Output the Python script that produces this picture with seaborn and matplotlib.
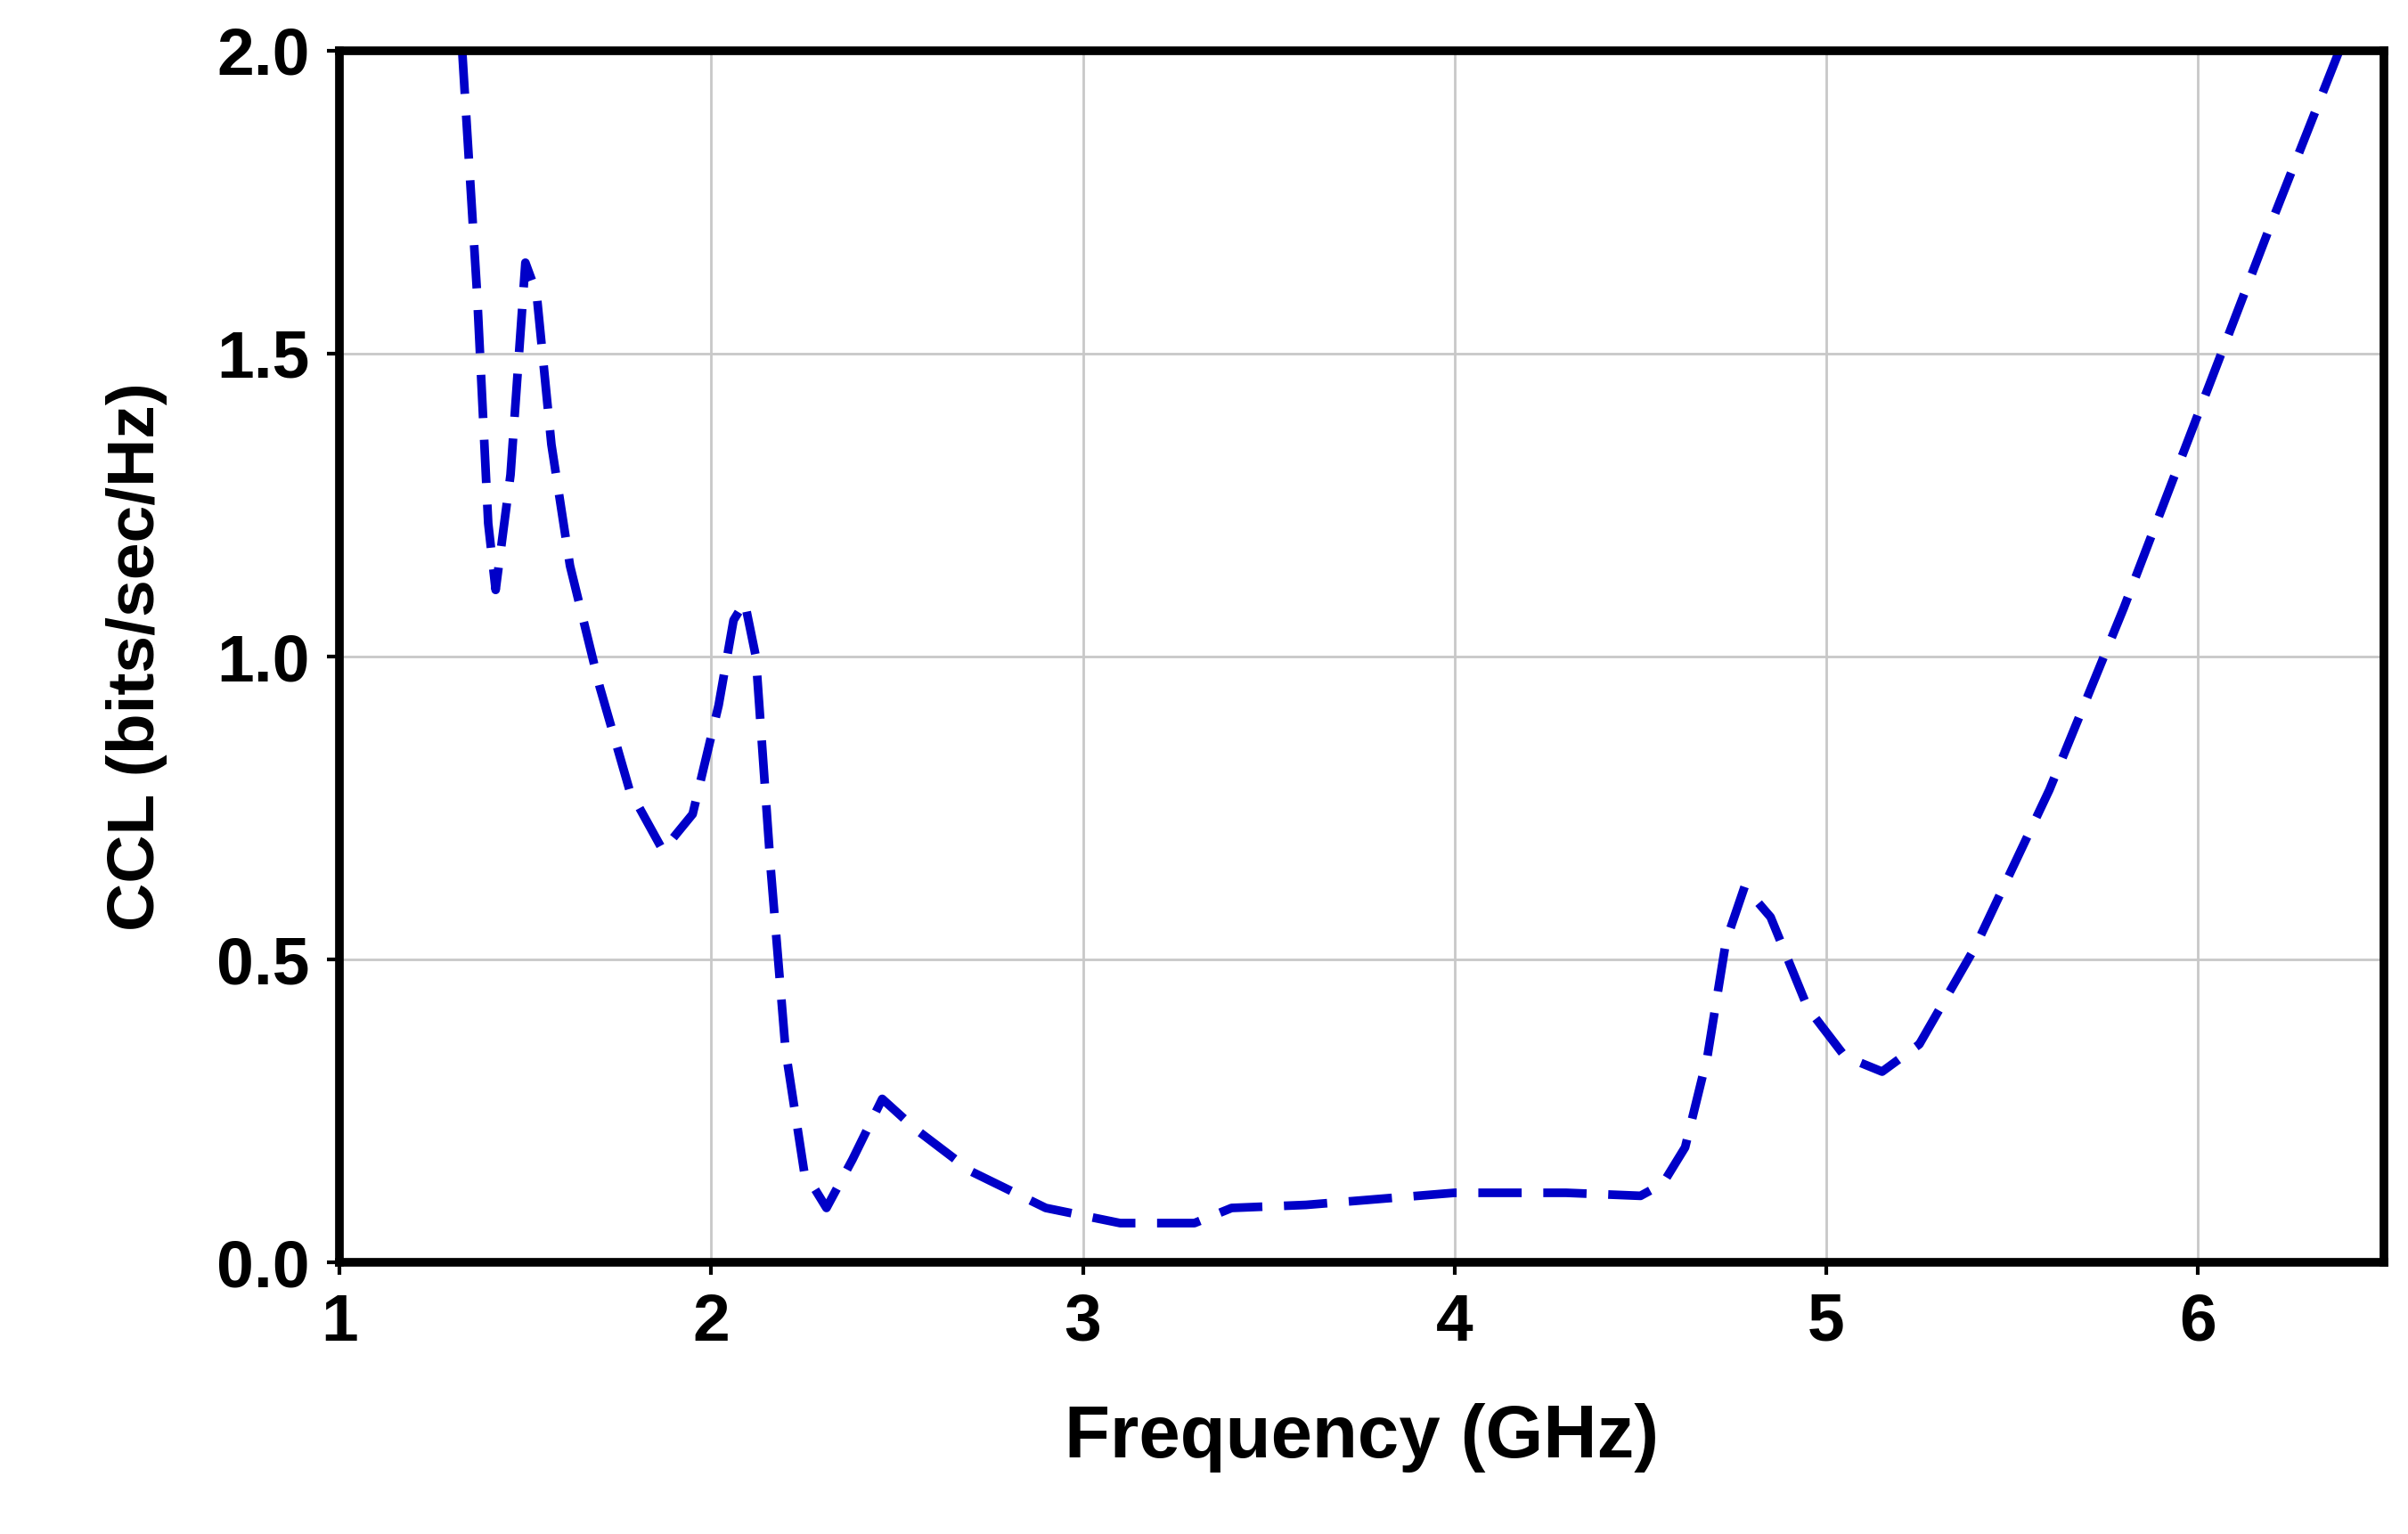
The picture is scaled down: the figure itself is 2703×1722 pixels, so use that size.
import matplotlib.pyplot as plt
import seaborn as sns
import pandas as pd

# values
freq_ghz = [1.33, 1.37, 1.40, 1.42, 1.46, 1.50, 1.53, 1.57, 1.62, 1.70, 1.78, 1.87,
            1.95, 2.02, 2.06, 2.09, 2.12, 2.16, 2.20, 2.25, 2.31, 2.38, 2.46, 2.55, 2.70,
            2.90, 3.10, 3.30, 3.40, 3.60, 4.00, 4.30, 4.50, 4.56, 4.62, 4.68, 4.73, 4.78,
            4.85, 4.95, 5.05, 5.15, 5.25, 5.40, 5.60, 5.80, 6.00, 6.20, 6.38]
ccl = [2.00, 1.60, 1.22, 1.11, 1.30, 1.65, 1.60, 1.35, 1.15, 0.95, 0.78, 0.68,
       0.74, 0.92, 1.06, 1.09, 1.00, 0.65, 0.35, 0.15, 0.09, 0.17, 0.27, 0.22, 0.15,
       0.09, 0.065, 0.065, 0.09, 0.095, 0.115, 0.115, 0.11, 0.13, 0.19, 0.34, 0.53, 0.62,
       0.57, 0.42, 0.34, 0.315, 0.36, 0.52, 0.78, 1.08, 1.40, 1.72, 2.00]
x_ticks = [1, 2, 3, 4, 5, 6]
y_ticks = [0.0, 0.5, 1.0, 1.5, 2.0]

sns.set_style('whitegrid')
plt.rcParams['font.family'] = ['Liberation Sans', 'DejaVu Sans']
plt.rcParams['font.weight'] = 'bold'
plt.rcParams['text.color'] = 'black'
plt.rcParams['axes.labelcolor'] = 'black'
plt.rcParams['xtick.color'] = 'black'
plt.rcParams['ytick.color'] = 'black'

df = pd.DataFrame({'Frequency': freq_ghz, 'CCL': ccl})

fig = plt.figure(figsize=(27.03, 17.22), dpi=100)
ax = fig.add_axes([0.141, 0.177, 0.849, 0.79])
sns.lineplot(data=df, x='Frequency', y='CCL', ax=ax, color='#0000C8',
             linewidth=7, dashes=False)
ax.lines[0].set_dashes([5, 2.5])

ax.set_xlim(1, 6.5)
ax.set_ylim(0, 2)
ax.set_xticks(x_ticks)
ax.set_yticks(y_ticks)
ax.set_yticklabels([f'{v:.1f}' for v in y_ticks])
ax.grid(True, color='#c8c8c8', linewidth=2)
for s in ax.spines.values():
    s.set_visible(True)
    s.set_color('black')
    s.set_linewidth(7)
ax.tick_params(axis='both', labelsize=54, length=10, width=3,
               direction='out', bottom=True, left=True, pad=14)
for lbl in ax.get_xticklabels() + ax.get_yticklabels():
    lbl.set_fontweight('bold')
ax.set_xlabel('Frequency (GHz)', fontsize=60, fontweight='bold', labelpad=40)
ax.set_ylabel('CCL (bits/sec/Hz)', fontsize=54, fontweight='bold', labelpad=40)

fig.savefig('out.png', dpi=100, facecolor='white')
